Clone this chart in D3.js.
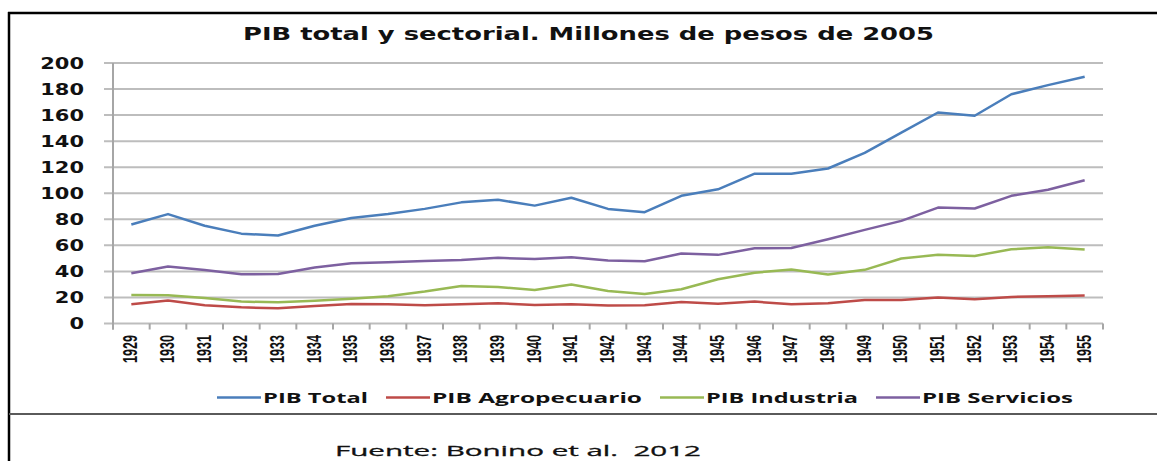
<!DOCTYPE html>
<html lang="es">
<head>
  <meta charset="UTF-8">
  <title>PIB total y sectorial</title>
  <script src="https://d3js.org/d3.v7.min.js"></script>
  <style>
    html, body { margin: 0; padding: 0; background: #fff; }
    svg { display: block; }
    .grid line { stroke: #bdbdbd; stroke-width: 2px; }
    .series { fill: none; stroke-width: 2.5px; stroke-linejoin: round; }
    .keep-spaces { white-space: pre; }
  </style>
</head>
<body>
  <svg id="chart" width="1157" height="461"></svg>
  <script>
    // Years (categories)
    const years = d3.range(1929, 1956).map(String);

    // Series values, millions of 2005 pesos
    const pibTotal = [76, 84, 75, 69, 67.5, 75, 81, 84, 88, 93, 95, 90.5, 96.5, 88, 85.5, 98, 103, 115, 115, 119, 131, 146.5, 162, 159.5, 176, 183, 189.5];
    const pibAgro = [14.7, 17.6, 14, 12.4, 11.7, 13.5, 15, 14.8, 14, 14.7, 15.5, 14.2, 14.7, 13.8, 14, 16.5, 15.2, 16.8, 14.7, 15.5, 18, 18, 19.9, 18.6, 20.4, 21, 21.5];
    const pibIndustria = [21.9, 21.7, 19.5, 16.8, 16.3, 17.5, 19, 21, 24.5, 28.8, 28, 25.8, 29.9, 25, 22.7, 26.3, 34, 39, 41.4, 37.6, 41.2, 49.9, 52.7, 51.9, 57, 58.6, 56.8];
    const pibServicios = [38.6, 43.7, 41, 37.8, 38, 43, 46.3, 47, 48, 48.8, 50.4, 49.6, 50.9, 48.3, 47.8, 53.7, 52.7, 57.8, 58, 64.7, 71.9, 78.8, 89, 88.3, 98, 102.7, 110];

    const seriesNames = ["PIB Total", "PIB Agropecuario", "PIB Industria", "PIB Servicios"];
    const seriesColors = ["#4a7ebb", "#be4b48", "#98b954", "#7d60a0"];
    const yTicks = [0, 20, 40, 60, 80, 100, 120, 140, 160, 180, 200];

    const title = "PIB total y sectorial. Millones de pesos de 2005";
    const source = "Fuente: Bonino et al.  2012";

    const series = [pibTotal, pibAgro, pibIndustria, pibServicios];

    const svg = d3.select("#chart");
    svg.append("rect").attr("width", 1157).attr("height", 461).attr("fill", "#fff");

    // Plot area
    const plot = { left: 113, right: 1103, top: 63, bottom: 323.5 };

    const x = d3.scaleBand().domain(years).range([plot.left, plot.right]);
    const y = d3.scaleLinear().domain([0, 200]).range([plot.bottom, plot.top]);

    // Frame
    svg.append("line").attr("x1", 8).attr("x2", 1157).attr("y1", 13).attr("y2", 13)
      .attr("stroke", "#000").attr("stroke-width", 2.5);
    svg.append("line").attr("x1", 9).attr("x2", 9).attr("y1", 12).attr("y2", 461)
      .attr("stroke", "#000").attr("stroke-width", 2.5);
    svg.append("line").attr("x1", 9).attr("x2", 1157).attr("y1", 414).attr("y2", 414)
      .attr("stroke", "#5a5a5a").attr("stroke-width", 2);

    // Title
    svg.append("text")
      .attr("x", 243).attr("y", 39.5)
      .attr("textLength", 691).attr("lengthAdjust", "spacingAndGlyphs")
      .style("font", "bold 17.5px 'DejaVu Sans', sans-serif")
      .attr("fill", "#111")
      .text(title);

    // Horizontal gridlines with tick stubs
    svg.append("g").attr("class", "grid")
      .selectAll("line").data(yTicks).enter().append("line")
      .attr("x1", plot.left - 9).attr("x2", plot.right)
      .attr("y1", d => y(d)).attr("y2", d => y(d));

    // Y axis line
    svg.append("line")
      .attr("x1", plot.left).attr("x2", plot.left)
      .attr("y1", plot.top).attr("y2", plot.bottom + 6)
      .attr("stroke", "#a6a6a6").attr("stroke-width", 2);

    // X axis ticks at category boundaries
    const bounds = years.map(d => x(d)).concat([plot.right]);
    svg.append("g").selectAll("line").data(bounds).enter().append("line")
      .attr("x1", d => d).attr("x2", d => d)
      .attr("y1", plot.bottom).attr("y2", plot.bottom + 6)
      .attr("stroke", "#a6a6a6").attr("stroke-width", 2);

    // Y tick labels (stretched horizontally like the source)
    svg.append("g").selectAll("text").data(yTicks).enter().append("text")
      .attr("transform", d => `translate(84,${y(d) + 5.5}) scale(1.4,1)`)
      .attr("text-anchor", "end")
      .style("font", "bold 15px 'DejaVu Sans', sans-serif")
      .attr("fill", "#111")
      .text(d => d);

    // X tick labels, rotated
    svg.append("g").selectAll("text").data(years).enter().append("text")
      .attr("transform", d => `translate(${x(d) + x.bandwidth() / 2 + 6},335) scale(1.3,1) rotate(-90)`)
      .attr("text-anchor", "end")
      .attr("textLength", 28).attr("lengthAdjust", "spacingAndGlyphs")
      .style("font", "bold 15px 'Liberation Sans', sans-serif")
      .attr("fill", "#111")
      .text(d => d);

    // Lines
    const line = d3.line()
      .x((d, i) => x(years[i]) + x.bandwidth() / 2)
      .y(d => y(d));

    svg.append("g").selectAll("path").data(series).enter().append("path")
      .attr("class", "series")
      .attr("stroke", (d, i) => seriesColors[i])
      .attr("d", line);

    // Legend
    const legendX = [217, 386, 660, 876];
    const legendW = [105, 210, 152, 151];
    const legend = svg.append("g").selectAll("g").data(seriesNames).enter().append("g")
      .attr("transform", (d, i) => `translate(${legendX[i]},397.5)`);
    legend.append("line")
      .attr("x1", 0).attr("x2", 44).attr("y1", 0).attr("y2", 0)
      .attr("stroke", (d, i) => seriesColors[i]).attr("stroke-width", 2.5);
    legend.append("text")
      .attr("x", 46).attr("y", 5.5)
      .attr("textLength", (d, i) => legendW[i]).attr("lengthAdjust", "spacingAndGlyphs")
      .style("font", "bold 15px 'Open Sans', sans-serif")
      .attr("fill", "#111")
      .text(d => d);

    // Source note
    svg.append("text")
      .attr("class", "keep-spaces")
      .attr("x", 335).attr("y", 456)
      .attr("textLength", 366).attr("lengthAdjust", "spacingAndGlyphs")
      .style("font", "15px 'Open Sans', sans-serif")
      .attr("fill", "#111")
      .attr("stroke", "#111").attr("stroke-width", 0.3)
      .text(source);
  </script>
</body>
</html>
